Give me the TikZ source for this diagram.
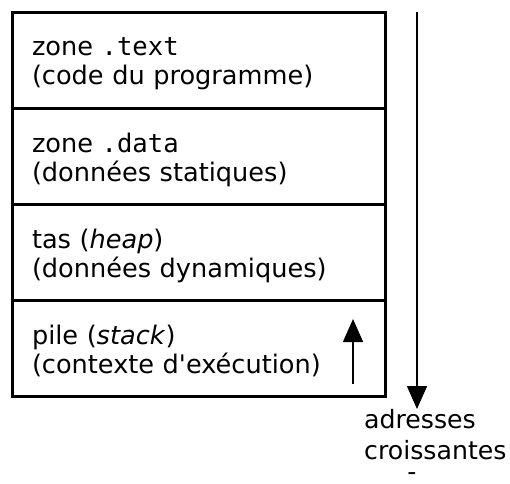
\documentclass[tikz,border=0pt]{standalone}
\usepackage{fontspec}
\setmainfont{DejaVu Sans}
\setmonofont{DejaVu Sans Mono}
\usetikzlibrary{arrows.meta}
\begin{document}
\begin{tikzpicture}[x=1pt,y=-1pt,
    memZone/.style={rectangle,draw=black,line width=3pt,outer sep=0pt,minimum width=373pt,minimum height=96pt,text width=333pt,text depth=27pt,inner xsep=20pt,align=left,anchor=north west,font=\fontsize{25.6}{29}\selectfont},
    memLbl/.style={inner sep=0pt,align=left,font=\fontsize{25.2}{31}\selectfont},
    memArr/.style={-{Triangle[width=20pt,length=23pt]},line width=1.5pt},
]
\useasboundingbox (0,0) rectangle (510,483);
\node[memZone] (Ztext) at (12,12) {zone \texttt{.text}\\(code du programme)};
\node[memZone] (Zdata) at (Ztext.south west) {zone \texttt{.data}\\(données statiques)};
\node[memZone] (Zheap) at (Zdata.south west) {tas (\textit{heap})\\(données dynamiques)};
\node[memZone] (Zstack) at (Zheap.south west) {pile (\textit{stack})\\(contexte d\textquotesingle exécution)};
% addresses grow downwards
\coordinate (addrTop) at (417,12);
\node[memLbl,anchor=north west] (addr) at (364,409) {adresses\\croissantes};
\node[memLbl,anchor=base] (dash) at (412,480) {-};
\draw[memArr] (addrTop) -- (addrTop |- addr.north);
% the stack grows upwards
\draw[memArr] ([shift={(-32,-12)}]Zstack.south east) -- ([shift={(-32,-77)}]Zstack.south east);
\end{tikzpicture}
\end{document}
